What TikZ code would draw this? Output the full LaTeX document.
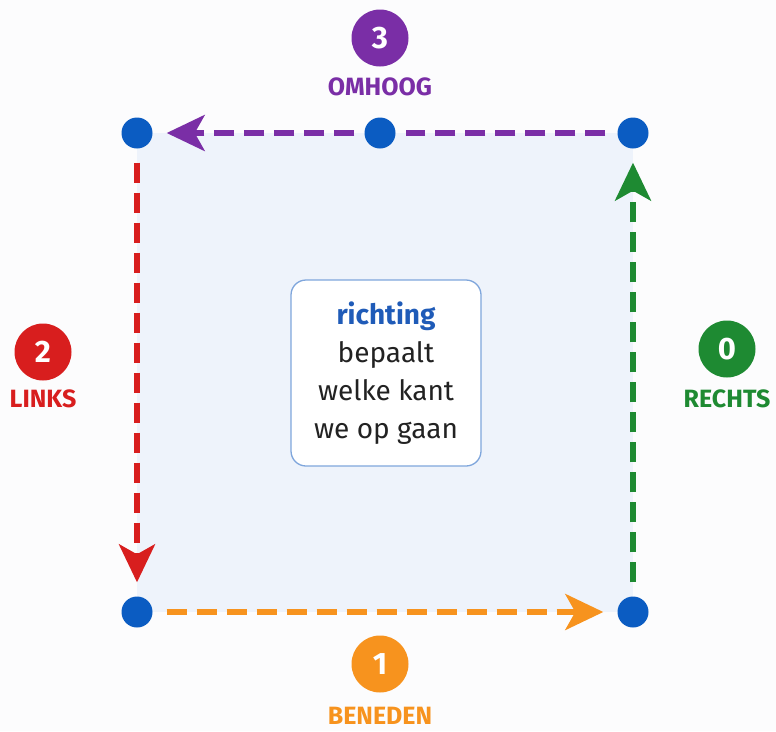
\documentclass[tikz,border=0pt]{standalone}
\usepackage{fontspec}
\setmainfont{Fira Sans}
\usetikzlibrary{arrows.meta}
\definecolor{bgc}{HTML}{FCFCFD}
\definecolor{areac}{HTML}{EEF3FB}
\definecolor{dotc}{HTML}{0B5CC2}
\definecolor{purp}{HTML}{7A2EA6}
\definecolor{redc}{HTML}{D81E1E}
\definecolor{grnc}{HTML}{1E8A32}
\definecolor{orac}{HTML}{F7931E}
\definecolor{boxb}{HTML}{7FA6DC}
\definecolor{richc}{HTML}{1F5BB8}
\definecolor{txtc}{HTML}{222222}
\tikzset{
  vdot/.style={circle, fill=dotc, inner sep=0pt, minimum size=31pt},
  badge/.style={circle, fill=#1, text=white, inner sep=0pt, minimum size=57pt,
    font=\fontsize{31}{34}\selectfont\bfseries},
  lbl/.style={text=#1, font=\fontsize{25}{28}\selectfont\bfseries},
  mv/.style={draw=#1, line width=5.5pt, dash pattern=on 20pt off 10pt,
    -{Stealth[length=38pt,width=36pt,inset=10pt]}, shorten <=14pt, shorten >=14pt},
  mvplain/.style={draw=#1, line width=5.5pt, dash pattern=on 20pt off 10pt,
    shorten <=12pt, shorten >=10pt},
}
\begin{document}
\begin{tikzpicture}[x=1pt,y=-1pt]
\fill[bgc] (0,0) rectangle (776,731);
\useasboundingbox (0,0) rectangle (776,731);
\fill[areac] (137,133) rectangle (633,612);
% dots
\node[vdot] (tl) at (137,133) {};
\node[vdot] (tm) at (380,133) {};
\node[vdot] (tr) at (633,133) {};
\node[vdot] (bl) at (137,612) {};
\node[vdot] (br) at (633,612) {};
% moves
\draw[mv=grnc] (br) -- (tr);
\draw[mv=orac] (bl) -- (br);
\draw[mv=redc] (tl) -- (bl);
\draw[mvplain=purp] (tr) -- (tm);
\draw[mv=purp, shorten <=10pt] (tm) -- (tl);
% badges
\node[badge=purp] (b3) at (380,38) {3};
\node[lbl=purp] (l3) at (380,87) {OMHOOG};
\node[badge=redc] (b2) at (43,352) {2};
\node[lbl=redc] (l2) at (43,399) {LINKS};
\node[badge=grnc] (b0) at (727,349) {0};
\node[lbl=grnc] (l0) at (727,399) {RECHTS};
\node[badge=orac] (b1) at (380,664) {1};
\node[lbl=orac] (l1) at (380,716) {BENEDEN};
% center box
\draw[boxb, fill=white, line width=1.3pt, rounded corners=15pt] (291,280) rectangle (481,466);
\node[align=center, text=txtc, font=\fontsize{28}{38}\selectfont] (ctext) at (386,373)
  {\textcolor{richc}{\bfseries richting}\\bepaalt\\welke kant\\we op gaan};
\end{tikzpicture}
\end{document}
